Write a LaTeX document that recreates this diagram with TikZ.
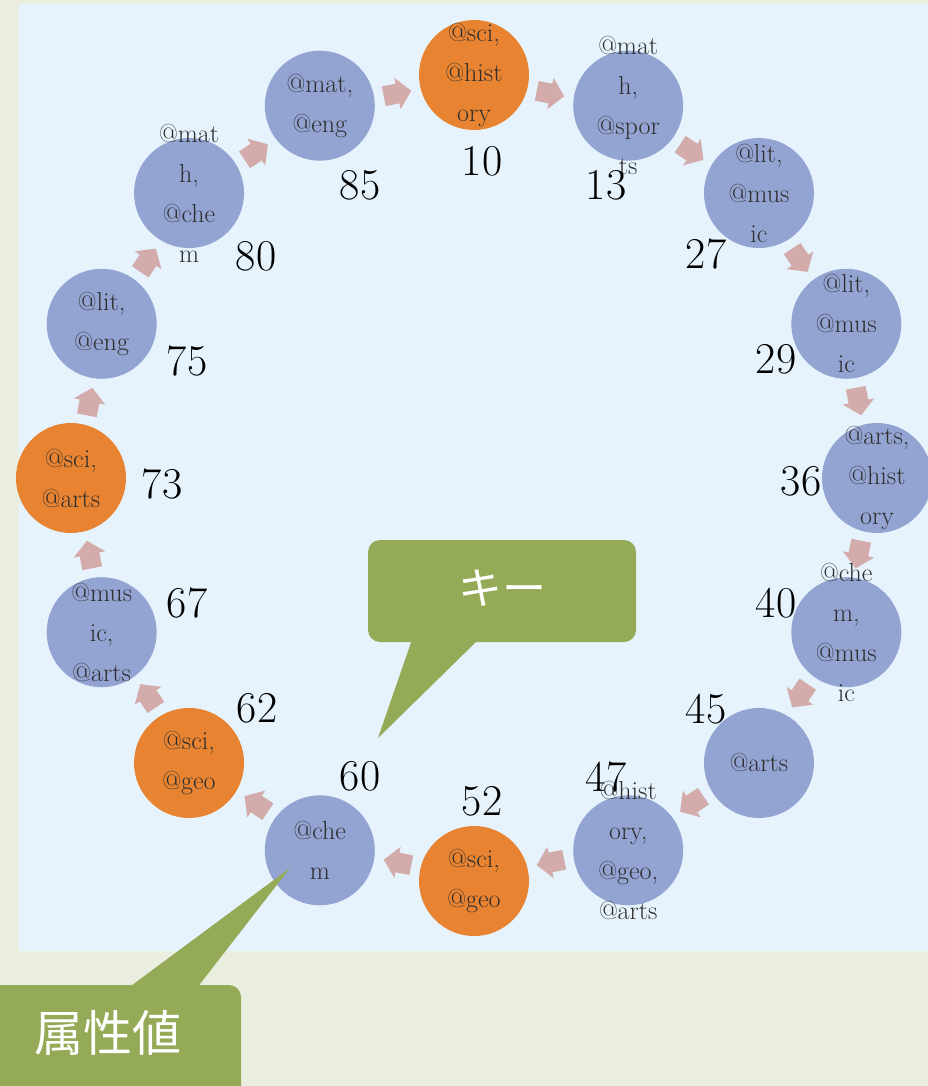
\documentclass[tikz,border=0pt]{standalone}
\usepackage{fontspec}
\newfontfamily\cjk{Noto Sans CJK JP}
\definecolor{outerbg}{HTML}{EAEEDF}
\definecolor{innerbg}{HTML}{E6F3FD}
\definecolor{ballblue}{HTML}{94A4D2}
\definecolor{ballorange}{HTML}{E88431}
\definecolor{arrowpink}{HTML}{D3ABAA}
\definecolor{calloutgreen}{HTML}{94AA57}
\definecolor{balltextc}{HTML}{2E2E2E}
\begin{document}
\begin{tikzpicture}[x=1pt,y=1pt,
  ball/.style={circle, minimum size=110pt, inner sep=0pt},
  balltext/.style={align=center, text=balltextc, font=\fontsize{26}{40}\selectfont, inner sep=0pt},
  numlabel/.style={anchor=base, font=\fontsize{44}{44}\selectfont, inner sep=0pt},
  flowarrow/.pic={\fill[arrowpink] (-14,-10)--(0,-10)--(0,-16)--(14,0)--(0,16)--(0,10)--(-14,10)--cycle;},
  callout/.style={fill=calloutgreen, rounded corners=12pt, inner sep=0pt},
  callouttext/.style={text=white, inner sep=0pt}]
\useasboundingbox (0,0) rectangle (928,-1086);
\clip (0,0) rectangle (928,-1086);
\fill[outerbg] (0,0) rectangle (928,-1086);
\fill[innerbg] (19,-4) rectangle (928,-951);
\coordinate (C) at (474,-478);
% circles
\foreach \k/\col in {0/ballorange,1/ballblue,2/ballblue,3/ballblue,4/ballblue,5/ballblue,6/ballblue,7/ballblue,
                     8/ballorange,9/ballblue,10/ballorange,11/ballblue,12/ballorange,13/ballblue,14/ballblue,15/ballblue}{
  \node[ball, fill=\col] (c\k) at ([shift={({90-22.5*\k}:403)}]C) {};
}
% flow arrows
\foreach \k in {0,...,15}{
  \pic[rotate={-22.5*\k-11.25}] (a\k) at ([shift={({90-22.5*\k-11.25}:392)}]C) {flowarrow};
}
% circle texts
\foreach \k/\txt in {0/{@sci,\\@hist\\ory}, 1/{@mat\\h,\\@spor\\ts}, 2/{@lit,\\@mus\\ic}, 3/{@lit,\\@mus\\ic},
                     4/{@arts,\\@hist\\ory}, 5/{@che\\m,\\@mus\\ic}, 6/{@arts}, 7/{@hist\\ory,\\@geo,\\@arts},
                     8/{@sci,\\@geo}, 9/{@che\\m}, 10/{@sci,\\@geo}, 11/{@mus\\ic,\\@arts},
                     12/{@sci,\\@arts}, 13/{@lit,\\@eng}, 14/{@mat\\h,\\@che\\m}, 15/{@mat,\\@eng}}{
  \node[balltext] (t\k) at (c\k) {\txt};
}
% key numbers
\foreach \v/\x/\y in {10/482/176, 13/606/200, 27/706/268, 29/776/373, 36/801/495, 40/776/617,
                      45/706/723, 47/606/791, 52/482/815, 60/360/790, 62/257/722, 67/187/617,
                      73/162/498, 75/187/375, 80/256/270, 85/360/200}{
  \node[numlabel] (n\v) at (\x,-\y) {\v};
}
% callout: key
\node[callout, minimum width=268pt, minimum height=102pt] (keybox) at (502,-591) {};
\coordinate (keytip) at (378,-738);
\fill[calloutgreen] ([xshift=44pt,yshift=2pt]keybox.south west) -- (keytip) -- ([xshift=110pt,yshift=2pt]keybox.south west) -- cycle;
\node[callouttext, font=\cjk\fontsize{44}{44}\selectfont] (keytext) at (502,-588) {キー};
% callout: attribute value
\node[callout, minimum width=270pt, minimum height=120pt] (attrbox) at (106,-1045) {};
\coordinate (attrtip) at (290,-868);
\fill[calloutgreen] ([xshift=159pt,yshift=-2pt]attrbox.north west) -- (attrtip) -- ([xshift=227pt,yshift=-2pt]attrbox.north west) -- cycle;
\node[callouttext, font=\cjk\fontsize{49}{49}\selectfont] (attrtext) at (108,-1033) {属性値};
\end{tikzpicture}
\end{document}
